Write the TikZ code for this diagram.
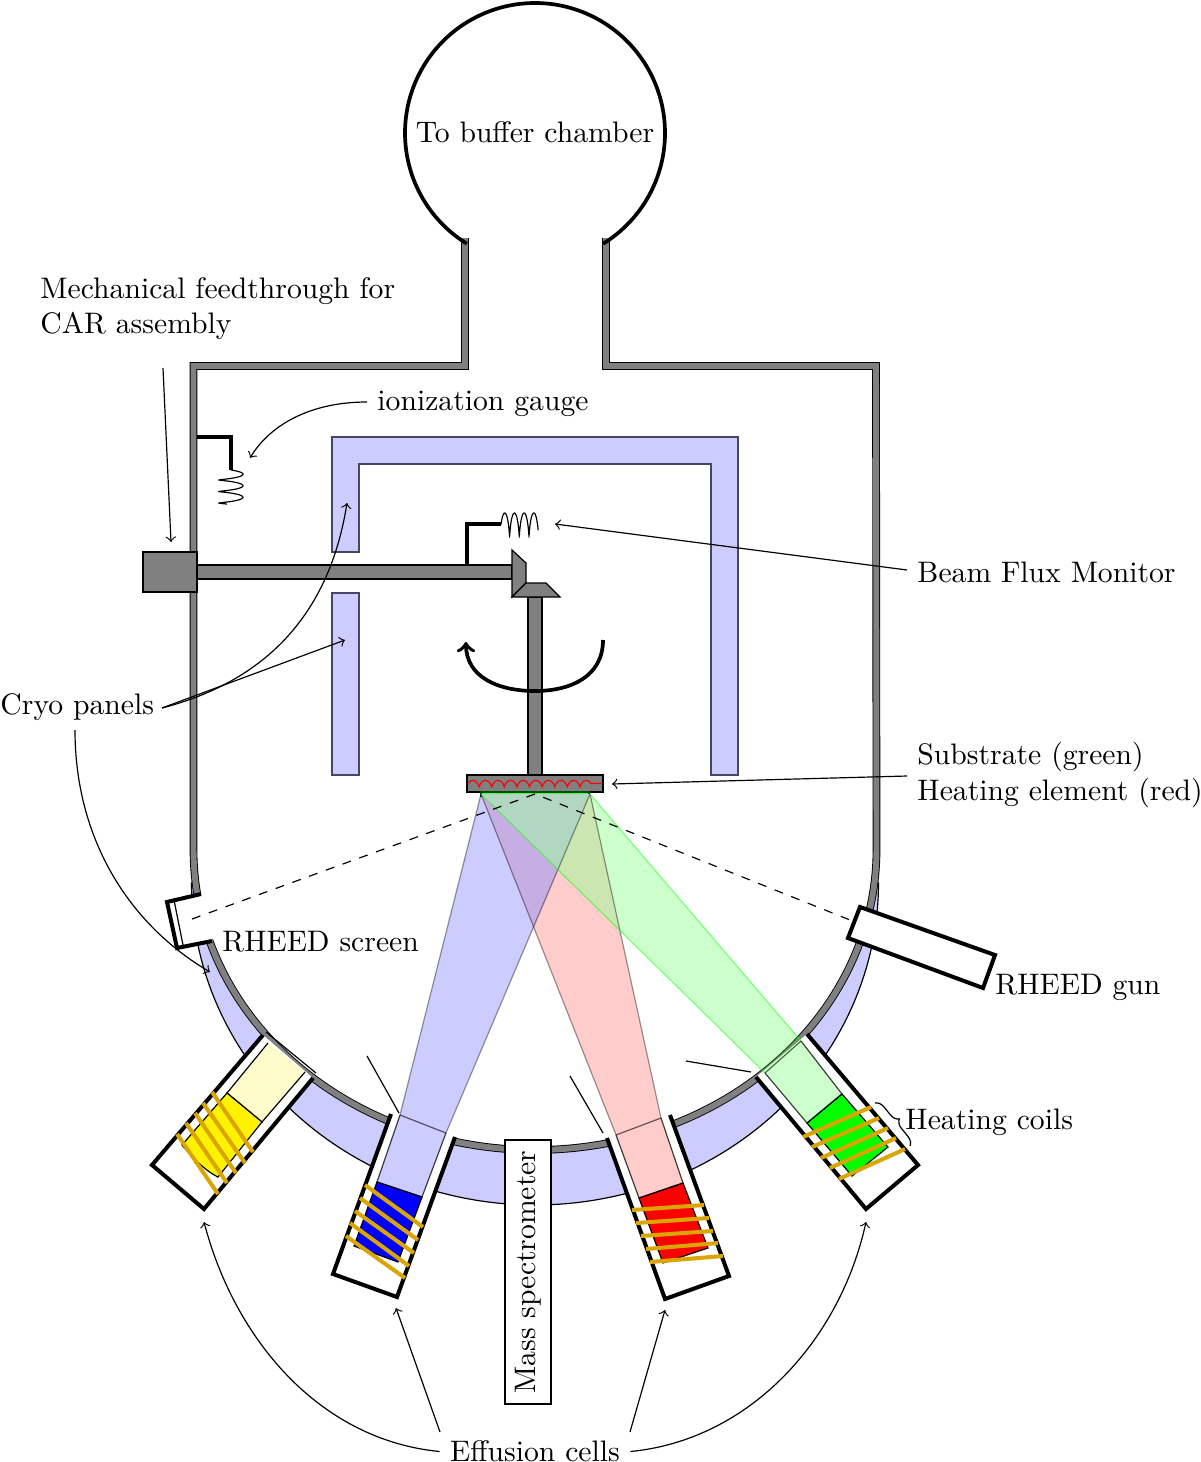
\documentclass[tikz,border=0pt]{standalone}
\usetikzlibrary{decorations.pathmorphing,decorations.pathreplacing,arrows.meta}
\definecolor{coil}{RGB}{218,165,0}
\definecolor{paneledge}{RGB}{70,70,100}
\definecolor{bluered}{RGB}{198,173,226}
\definecolor{redgreen}{RGB}{204,230,177}
\definecolor{triple}{RGB}{178,215,192}
\tikzset{
  ptr/.style={->,thin,>=to},
  cellwall/.style={line width=1.35pt,line join=miter},
  coilbar/.style={coil,line width=1.35pt},
  tube/.style={thin,fill opacity=.2,draw opacity=.75},
  gear/.style={fill=gray,draw=black,thin},
  lbl/.style={anchor=west,align=left},
  beam/.style={fill opacity=.2,draw=none},
  panel/.style={fill=blue!20,draw=paneledge,thin},
}
\begin{document}
\begin{tikzpicture}[x=0.337pt,y=-0.337pt]
\useasboundingbox (0,0) rectangle (1200,1462);
% cryo shroud ring
\fill[blue!20,draw=black,thin] plot[domain=0:180,samples=120] ({535+343.5*cos(\x)},{883+322*sin(\x)}) -- cycle;
% interior
\fill[white] (193.5,366) -- (193.5,850) -- plot[domain=180:0,samples=120] ({535+341.5*cos(\x)},{850+300*sin(\x)}) -- (876,366) -- cycle;
% chamber wall
\draw[double=gray,double distance=2pt,line width=.3pt] (465,238) -- (465,366) -- (193.5,366) -- (193.5,850) -- plot[domain=180:0,samples=120] ({535+341.5*cos(\x)},{850+300*sin(\x)}) -- (876,366) -- (606,366) -- (606,238);
% buffer chamber
\draw[line width=1.25pt] plot[domain=58.4:-238.4,samples=160] ({535+130*cos(\x)},{133+130*sin(\x)});
% cryo panels
\draw[panel] (332,437) -- (738,437) -- (738,775) -- (711,775) -- (711,464) -- (359,464) -- (359,552) -- (332,552) -- cycle;
\draw[panel] (332,593) rectangle (359,775);
% ionization gauge
\draw[line width=1.25pt] (197,437) -- (231,437) -- (231,470);
\draw[thin] plot[smooth,domain=0:1060,samples=110] ({231+12*sin(\x)},{470+0.03208*\x+1.3-1.3*cos(\x)});
% feedthrough
\draw[gear] (197,565) rectangle (512,579);
\draw[gear] (143,552) rectangle (197,592);
% filament
\draw[line width=1.25pt] (467,565) -- (467,524) -- (501,524);
\draw[thin] plot[smooth,domain=0:1290,samples=130] ({501+0.02694*\x+1.3-1.3*cos(\x)},{524.5-11.5*sin(\x)});
% gears
\draw[gear] (528,597) rectangle (542,775);
\draw[gear] (512,550) -- (526,563) -- (526,583) -- (512,597) -- cycle;
\draw[gear] (512,597) -- (526,583) -- (546,583) -- (560,597) -- cycle;
% rotation arrow
\draw[line width=1.25pt,->,>=to] (603,640) .. controls (603,677) and (570,691) .. (535,691) .. controls (498,691) and (466,677) .. (466,642);
% substrate holder
\draw[gear] (467,775) rectangle (603,792);
\draw[red,thin,decorate,decoration={coil,amplitude=1.1pt,segment length=4.25pt,aspect=.5}] (468,783.5) -- (602,783.5);
\filldraw[fill=green!70!white,draw=black!70!green,thin] (481,792) rectangle (589,796);
% RHEED screen
\fill[white] (201,894) -- (167,902) -- (177,948) -- (212,941) -- (218,920) -- cycle;
\draw[cellwall] (201,894) -- (167,902) -- (177,948) -- (212,941);
\draw[thin] (174,900) -- (183,945);
% RHEED gun
\filldraw[fill=white,cellwall] (860,907) -- (995,955) -- (983,988) -- (848,938) -- cycle;
% yellow cell
\fill[white] (263,1035) -- (152,1165) -- (204,1209) -- (313,1078) -- cycle;
\filldraw[fill=yellow!20,draw=black,thin] (268,1043) -- (227,1093) -- (262,1122) -- (305,1072);
\filldraw[fill=yellow,draw=black,thin] (227,1093) -- (262,1122) -- (218,1177) .. controls (204,1170) and (192,1157) .. (182,1145) -- cycle;
\draw[cellwall] (263,1035) -- (152,1165) -- (204,1209) -- (313,1078);
\draw[thin] (266,1032) -- (316,1073);
\foreach \a/\b/\c/\d in {177/1134/218/1194,186/1123/227/1183,195/1113/236/1173,203/1103/245/1163,212/1092/253/1152}
  \draw[coilbar] (\a,\b) -- (\c,\d);
% blue cell
\fill[white] (391,1114) -- (333,1274) -- (397,1297) -- (455,1137) -- cycle;
\filldraw[fill=blue,draw=black,thin] (377,1182) -- (422,1197) -- (398,1262) -- (354,1246) -- cycle;
\draw[cellwall] (391,1114) -- (333,1274) -- (397,1297) -- (455,1137);
\foreach \a/\b/\c/\d in {365/1185/423/1227,360/1198/418/1240,355/1211/414/1253,350/1223/409/1266,346/1236/405/1278}
  \draw[coilbar] (\a,\b) -- (\c,\d);
% red cell
\fill[white] (607,1138) -- (665,1299) -- (729,1276) -- (670,1115) -- cycle;
\filldraw[fill=red,draw=black,thin] (639,1198) -- (683,1183) -- (708,1248) -- (663,1263) -- cycle;
\draw[cellwall] (607,1138) -- (665,1299) -- (729,1276) -- (670,1115);
\foreach \a/\b/\c/\d in {632/1210/704/1205,636/1223/709/1218,641/1236/713/1231,646/1249/718/1243,650/1262/723/1256}
  \draw[coilbar] (\a,\b) -- (\c,\d);
% green cell
\fill[white] (756,1077) -- (866,1209) -- (918,1165) -- (807,1034) -- cycle;
\filldraw[fill=green,draw=black,thin] (807,1123) -- (842,1094) -- (888,1147) -- (852,1176) -- cycle;
\draw[cellwall] (756,1077) -- (866,1209) -- (918,1165) -- (807,1034);
\foreach \a/\b/\c/\d in {803/1137/871/1107,812/1147/879/1118,821/1158/888/1128,830/1168/896/1138,839/1179/905/1149}
  \draw[coilbar] (\a,\b) -- (\c,\d);
% beams
\def\bluebeam{(481,794) -- (590,794) -- (446,1133) -- (400,1115) -- cycle}
\def\redbeam{(481,794) -- (590,794) -- (661,1118) -- (616,1135) -- cycle}
\def\greenbeam{(481,794) -- (590,794) -- (801,1041) -- (765,1073) -- cycle}
\fill[red,beam] \redbeam;
\fill[blue,beam] \bluebeam;
\fill[green,beam] \greenbeam;
\begin{scope}\clip \redbeam; \fill[bluered] \bluebeam; \end{scope}
\begin{scope}\clip \redbeam; \fill[redgreen] \greenbeam; \end{scope}
\begin{scope}\clip \bluebeam; \fill[triple] \greenbeam; \end{scope}
\draw[black,opacity=.4,thin] (481,794) -- (400,1115) (590,794) -- (446,1133);
\draw[black,opacity=.4,thin] (481,794) -- (616,1135) (590,794) -- (661,1118);
\draw[green,opacity=.45,thin] (481,794) -- (765,1073) (590,794) -- (801,1041);
% tubes
\filldraw[tube,fill=blue] (400,1115) -- (377,1182) -- (422,1197) -- (446,1133);
\draw[black,opacity=.6,thin] (400,1115) -- (446,1133);
\filldraw[tube,fill=red] (616,1135) -- (639,1198) -- (683,1183) -- (661,1118);
\draw[black,opacity=.6,thin] (616,1135) -- (661,1118);
\filldraw[tube,fill=green] (765,1073) -- (807,1123) -- (842,1094) -- (801,1041);
\draw[black,opacity=.6,thin] (765,1073) -- (801,1041);
% dashed
\coordinate (apex) at (535,794);
\coordinate (scr) at (192,919);
\coordinate (gun) at (850,920);
\draw[dashed,thin] (scr) -- (apex) -- (gun);
% stray lines
\draw[thin] (367,1056) -- (399,1113);
\draw[thin] (570,1076) -- (603,1133);
\draw[thin] (686,1061) -- (751,1072);
% brace
\draw[thin,decorate,decoration={brace,amplitude=3pt}] (875,1103) -- (910,1146);
% mass spectrometer
\node[draw,fill=white,thin,rotate=90,minimum width=264*0.337pt,minimum height=46*0.337pt,inner sep=0pt] (ms) at (528,1272) {Mass spectrometer};
% labels
\node (buf) at (535,132.5) {To buffer chamber};
\node[lbl] (mech) at (30,308.5) {Mechanical feedthrough for\\CAR assembly};
\node[lbl] (ion) at (367,404) {ionization gauge};
\node[lbl] (bfm) at (907,572.5) {Beam Flux Monitor};
\node[lbl] (cryo) at (-10,707.5) {Cryo panels};
\node[lbl] (sub) at (907,775) {Substrate (green)\\Heating element (red)};
\node[lbl] (rs) at (212,942) {RHEED screen};
\node[lbl] (rg) at (985,987) {RHEED gun};
\node[lbl] (hc) at (895,1122.5) {Heating coils};
\node (eff) at (535,1451.5) {Effusion cells};
% connectors
\coordinate (mechend) at (171,542);
\coordinate (ionst) at (367,402);
\coordinate (ionend) at (250,458);
\coordinate (bfmend) at (555,524);
\coordinate (c1) at (347,503);
\coordinate (c2) at (345,640);
\coordinate (c3) at (210,972);
\coordinate (subend) at (612,784);
\coordinate (e1) at (204,1222);
\coordinate (e2) at (396,1308);
\coordinate (e3) at (665,1310);
\coordinate (e4) at (866,1222);
\coordinate (mechst) at (163,368);
\coordinate (bfmst) at (907,570);
\coordinate (subst) at (907,776);
\coordinate (cryost) at (162,708);
\coordinate (cryob) at (75,730);
\coordinate (e1st) at (440,1432);
\coordinate (e3st) at (630,1432);
\draw[ptr] (mechst) -- (mechend);
\draw[ptr] (ionst) .. controls (310,402) and (270,425) .. (ionend);
\draw[ptr] (bfmst) -- (bfmend);
\draw[ptr] (subst) -- (subend);
\draw[ptr] (cryost) -- (c2);
\draw[ptr] (cryost) .. controls (270,680) and (330,610) .. (c1);
\draw[ptr] (cryob) .. controls (75,840) and (130,925) .. (c3);
\draw[ptr] (eff.west) .. controls (320,1440) and (235,1340) .. (e1);
\draw[ptr] (e1st) -- (e2);
\draw[ptr] (e3st) -- (e3);
\draw[ptr] (eff.east) .. controls (750,1440) and (840,1340) .. (e4);
\end{tikzpicture}
\end{document}
